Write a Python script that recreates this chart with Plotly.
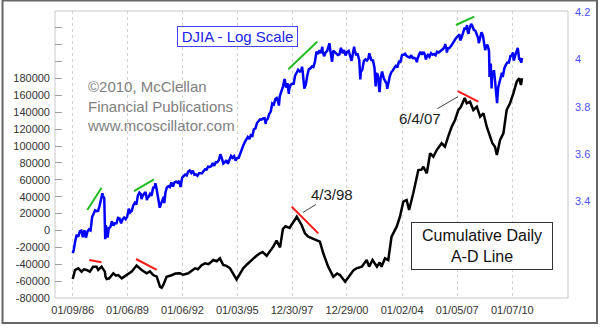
import numpy as np
import pandas as pd
import plotly.graph_objects as go

# ---------------------------------------------------------------------------
# Dow Jones Industrial Average: month-end closes, Jan 1986 .. Jun 2010
# ---------------------------------------------------------------------------
djia_month_end = [
    1571, 1709, 1819, 1784, 1877, 1893, 1775, 1898, 1768, 1878, 1914, 1896,
    2158, 2224, 2305, 2286, 2292, 2419, 2572, 2663, 2596, 1994, 1834, 1939,
    1958, 2072, 1988, 2032, 2031, 2142, 2129, 2032, 2113, 2149, 2115, 2169,
    2342, 2258, 2294, 2419, 2480, 2440, 2661, 2737, 2693, 2645, 2706, 2753,
    2591, 2627, 2707, 2657, 2877, 2881, 2905, 2614, 2453, 2442, 2560, 2634,
    2736, 2882, 2914, 2888, 3028, 2907, 3025, 3044, 3017, 3069, 2895, 3169,
    3224, 3267, 3236, 3359, 3397, 3319, 3394, 3257, 3272, 3226, 3306, 3301,
    3310, 3370, 3435, 3428, 3527, 3516, 3540, 3651, 3555, 3681, 3684, 3754,
    3978, 3832, 3636, 3682, 3758, 3625, 3765, 3913, 3843, 3908, 3739, 3834,
    3844, 4011, 4158, 4321, 4465, 4556, 4709, 4611, 4789, 4756, 5075, 5117,
    5395, 5486, 5588, 5569, 5643, 5655, 5529, 5616, 5882, 6029, 6522, 6448,
    6813, 6877, 6584, 7009, 7331, 7673, 8223, 7622, 7945, 7442, 7823, 7908,
    7907, 8546, 8800, 9063, 8900, 8952, 8883, 7539, 7843, 8592, 9117, 9181,
    9359, 9307, 9786, 10789, 10560, 10971, 10655, 10829, 10337, 10730, 10878, 11497,
    10941, 10128, 10922, 10734, 10522, 10448, 10522, 11215, 10651, 10971, 10415, 10787,
    10887, 10495, 9879, 10735, 10912, 10502, 10523, 9950, 8848, 9075, 9852, 10022,
    9920, 10106, 10404, 9946, 9925, 9243, 8737, 8664, 7592, 8397, 8896, 8342,
    8054, 7891, 7992, 8480, 8850, 8985, 9234, 9416, 9275, 9801, 9782, 10454,
    10488, 10584, 10358, 10226, 10188, 10435, 10140, 10174, 10080, 10027, 10428, 10783,
    10490, 10766, 10504, 10193, 10467, 10275, 10641, 10482, 10569, 10440, 10806, 10718,
    10865, 10993, 11109, 11367, 11168, 11150, 11186, 11381, 11679, 12081, 12222, 12463,
    12622, 12269, 12354, 13063, 13628, 13409, 13212, 13358, 13896, 13930, 13372, 13265,
    12650, 12266, 12263, 12820, 12638, 11350, 11378, 11544, 10851, 9325, 8829, 8776,
    8001, 7063, 7609, 8168, 8500, 8447, 9172, 9496, 9712, 9713, 10345, 10428,
    10067, 10325, 10857, 11009, 10137, 9774,
]

# Intra-month highs and lows plus the first and last days of the series
djia_swing_dates = [
    "1986-01-09", "1987-08-25", "1987-10-19", "1987-12-04", "1989-10-13",
    "1990-01-30", "1990-07-16", "1990-10-11", "1991-01-09", "1996-07-23",
    "1997-04-11", "1997-08-06", "1997-10-27", "1998-07-17", "1999-08-25",
    "2000-01-14", "2000-03-07", "2001-05-21", "2001-09-21", "2002-03-19",
    "2002-07-23", "2002-10-09", "2003-03-11", "2004-10-25", "2005-04-20",
    "2006-05-10", "2006-06-13", "2007-02-20", "2007-03-05", "2007-07-19",
    "2007-08-16", "2007-10-09", "2008-03-10", "2008-05-02", "2008-07-15",
    "2008-10-10", "2008-11-04", "2008-11-20", "2009-01-06", "2009-03-09",
    "2009-06-12", "2010-01-19", "2010-02-08", "2010-04-26", "2010-05-25",
    "2010-07-02", "2010-07-20",
]
djia_swing_values = [
    1518, 2722, 1739, 1767, 2569,
    2543, 2999, 2365, 2470, 5347,
    6392, 8259, 7161, 9338, 11326,
    11723, 9796, 11337, 8236, 10635,
    7702, 7286, 7524, 9750, 10012,
    11642, 10706, 12786, 12050, 14000,
    12846, 14165, 11740, 13058, 10963,
    8451, 9625, 7552, 9015, 6547,
    8800, 10725, 9908, 11205, 9975,
    9686, 10150,
]

# ---------------------------------------------------------------------------
# NYSE cumulative daily advance-decline line
# ---------------------------------------------------------------------------
ad_dates = [
    "1986-01-09", "1986-02-24", "1986-04-30", "1986-07-05", "1986-08-22", "1986-10-12", "1986-12-16",
    "1987-02-20", "1987-04-30", "1987-06-02", "1987-08-07", "1987-09-09", "1987-10-12", "1987-10-26", "1987-11-17",
    "1988-01-08", "1988-03-29", "1988-05-20", "1988-07-05", "1988-09-13", "1988-12-20",
    "1989-03-29", "1989-07-05", "1989-10-15",
    "1990-01-22", "1990-03-29", "1990-06-02", "1990-08-11", "1990-10-15", "1990-11-17", "1990-12-20",
    "1991-02-24", "1991-06-02", "1991-08-20", "1991-11-17",
    "1992-01-20", "1992-05-01", "1992-07-15", "1992-09-13", "1992-11-10",
    "1993-01-15", "1993-03-29", "1993-06-10", "1993-09-13", "1993-11-20",
    "1994-01-22", "1994-03-29", "1994-06-01", "1994-08-11", "1994-12-20",
    "1995-03-01", "1995-05-01", "1995-07-20", "1995-10-15",
    "1996-01-10", "1996-03-29", "1996-05-20", "1996-08-11", "1996-12-20",
    "1997-02-24", "1997-05-05", "1997-07-01", "1997-08-22", "1997-11-10",
    "1998-01-22", "1998-04-03", "1998-07-08", "1998-09-13", "1998-11-17",
    "1999-01-26", "1999-05-05", "1999-07-08", "1999-09-13", "1999-12-20",
    "2000-04-01", "2000-06-15", "2000-08-11", "2000-11-22",
    "2001-02-28", "2001-05-10", "2001-07-08", "2001-10-20",
    "2002-01-26", "2002-03-15", "2002-05-22", "2002-08-18", "2002-10-12", "2002-11-17",
    "2003-01-26", "2003-04-01", "2003-06-05", "2003-09-16", "2003-11-20",
    "2004-01-26", "2004-04-01", "2004-05-20", "2004-08-11", "2004-11-20",
    "2005-01-22", "2005-02-28", "2005-05-08", "2005-07-13", "2005-09-16", "2005-11-22",
    "2006-02-28", "2006-05-05", "2006-07-08", "2006-09-16", "2006-11-22",
    "2007-01-26", "2007-03-14", "2007-06-04", "2007-07-13", "2007-09-16", "2007-11-22",
    "2008-01-30", "2008-04-05", "2008-06-10", "2008-08-15", "2008-10-20", "2008-12-05",
    "2009-01-26", "2009-03-05", "2009-05-08", "2009-07-13", "2009-09-16", "2009-11-22",
    "2010-01-26", "2010-04-05", "2010-05-22", "2010-06-28", "2010-07-20",
]
ad_values = [
    -57500, -47000, -44800, -48800, -46000, -46800, -48800,
    -43000, -42900, -46800, -42900, -45500, -48800, -55000, -57500,
    -56700, -50700, -53500, -52800, -56700, -52800,
    -48800, -41500, -46800,
    -50700, -48500, -52800, -54800, -66600, -67800, -64600,
    -54800, -53000, -51000, -50700,
    -52500, -50700, -47000, -44800, -46000,
    -41500, -38900, -40000, -35000, -36500,
    -33000, -40900, -42000, -44800, -58000,
    -50000, -44800, -40000, -35000,
    -30500, -27000, -25500, -30000, -19200,
    -12000, -20000, 2000, 5000, 3000,
    10400, 16300, 6500, -3400, -7400,
    -9300, -11300, -13300, -27000, -42900,
    -54800, -51000, -52800, -60700,
    -52800, -47000, -44800, -42900,
    -35000, -42900, -35000, -42900, -38000, -43000,
    -33000, -35000, -7400, 4500, 16300,
    34100, 36100, 24300, 44000, 71600,
    72000, 75500, 67700, 91400, 87400, 95300,
    103300, 99200, 111100, 122900, 130900,
    142700, 146000, 157000, 150700, 152600, 142700,
    146600, 134800, 138800, 122900, 111100, 103300,
    99200, 89400, 107200, 115100, 142700, 150700,
    162000, 176300, 180300, 172300, 180300,
]

# Divergence trend lines: DJIA highs (green) vs. A-D line highs (red)
djia_trend_dates = [
    ("1986-10-27", "1987-08-07"),
    ("1989-05-15", "1990-06-18"),
    ("1997-10-16", "1999-05-15"),
    ("2006-12-10", "2007-12-10"),
]
djia_trend_values = [(2312, 2871), (2782, 3114), (9100, 11903), (14007, 15187)]

ad_trend_dates = [
    ("1986-12-05", "1987-08-07"),
    ("1989-06-24", "1990-08-11"),
    ("1997-12-24", "1999-06-06"),
    ("2007-01-15", "2008-03-01"),
]
ad_trend_values = [(-35000, -37700), (-33800, -46800), (28200, -3400), (165200, 152600)]

# Axis ticks
x_tick_dates = ["1986-01-09", "1989-01-06", "1992-01-06", "1995-01-03", "1997-12-30",
                "2000-12-29", "2004-01-02", "2007-01-05", "2010-01-07"]
x_tick_labels = ["01/09/86", "01/06/89", "01/06/92", "01/03/95", "12/30/97",
                 "12/29/00", "01/02/04", "01/05/07", "01/07/10"]
ad_ticks = list(range(-80000, 260001, 20000))
ad_tick_labels = [str(v) if v <= 180000 else "" for v in ad_ticks]
log_ticks = [3.4, 3.6, 3.8, 4.0, 4.2]
log_tick_labels = ["3.4", "3.6", "3.8", "4", "4.2"]

# ---------------------------------------------------------------------------
month_end_dates = pd.period_range("1986-01", periods=len(djia_month_end),
                                  freq="M").to_timestamp(how="end").normalize()
djia = pd.Series(djia_month_end, index=month_end_dates)
djia = pd.concat([djia, pd.Series(djia_swing_values, index=pd.to_datetime(djia_swing_dates))])
djia = djia.sort_index()

FONT = "Arial, 'Liberation Sans', sans-serif"
BLUE = "#0000ff"
GREEN = "#22bb22"
RED = "#ff1a1a"

fig = go.Figure()

fig.add_trace(go.Scatter(
    x=pd.to_datetime(ad_dates), y=ad_values, mode="lines", yaxis="y",
    line=dict(color="#000000", width=2.5), hoverinfo="skip"))

fig.add_trace(go.Scatter(
    x=djia.index, y=np.log10(djia.values), mode="lines", yaxis="y2",
    line=dict(color=BLUE, width=2.5), hoverinfo="skip"))

for (d0, d1), (v0, v1) in zip(ad_trend_dates, ad_trend_values):
    fig.add_trace(go.Scatter(x=[d0, d1], y=[v0, v1], mode="lines", yaxis="y",
                             line=dict(color=RED, width=2), hoverinfo="skip"))

for (d0, d1), (v0, v1) in zip(djia_trend_dates, djia_trend_values):
    fig.add_trace(go.Scatter(x=[d0, d1], y=np.log10([v0, v1]), mode="lines", yaxis="y2",
                             line=dict(color=GREEN, width=2), hoverinfo="skip"))

fig.update_layout(
    template="none",
    width=600, height=329,
    margin=dict(l=55, r=32, t=11, b=31, pad=0),
    paper_bgcolor="white", plot_bgcolor="white",
    showlegend=False,
    font=dict(family=FONT, size=11, color="#333333"),
    xaxis=dict(
        type="date", range=["1985-01-21", "2013-01-21"],
        tickvals=x_tick_dates, ticktext=x_tick_labels,
        showgrid=True, gridcolor="#d2d2d2", griddash="dot", gridwidth=1,
        ticks="", zeroline=False, showline=False, automargin=False,
        tickfont=dict(size=11, color="#333333"), ticklabelstandoff=4,
    ),
    yaxis=dict(
        range=[-80000, 260000], tickvals=ad_ticks, ticktext=ad_tick_labels,
        ticks="inside", ticklen=7, tickcolor="#a0a0a0", tickwidth=1,
        showgrid=False, zeroline=False, showline=False, automargin=False,
        tickfont=dict(size=11, color="#333333"), ticklabelstandoff=4,
    ),
    yaxis2=dict(
        overlaying="y", side="right", range=[2.992, 4.2055],
        tickvals=log_ticks, ticktext=log_tick_labels, ticks="",
        showgrid=False, zeroline=False, showline=False, automargin=False,
        tickfont=dict(size=11, color="#5050ff"), ticklabelstandoff=6,
    ),
)

# Plot frame and the outer picture frame
fig.add_shape(type="rect", xref="paper", yref="paper", x0=0, x1=1, y0=0, y1=1,
              line=dict(color="#c8c8c8", width=1), layer="below")
fig.add_shape(type="rect", xref="paper", yref="paper",
              x0=-0.1023, x1=1.0565, y0=-0.0871, y1=1.0366,
              line=dict(color="#666666", width=2))

fig.add_annotation(
    xref="paper", yref="paper", x=0.3552, y=0.9118, xanchor="center", yanchor="middle",
    text="DJIA - Log Scale", showarrow=False,
    font=dict(family=FONT, size=15, color="#2222ee"),
    bgcolor="white", bordercolor="#4444ff", borderwidth=1, borderpad=1,
    width=117, height=17,
)

fig.add_annotation(
    xref="paper", yref="paper", x=0.0585, y=0.6683, xanchor="left", yanchor="middle",
    text="©2010, McClellan<br>Financial Publications<br>www.mcoscillator.com",
    showarrow=False, align="left",
    font=dict(family=FONT, size=15, color="#808080"),
)

fig.add_annotation(
    xref="paper", yref="paper", x=0.832, y=0.1805, xanchor="center", yanchor="middle",
    text="Cumulative Daily<br>A-D Line", showarrow=False, align="center",
    font=dict(family=FONT, size=16, color="#111111"),
    bgcolor="white", bordercolor="#333333", borderwidth=1, borderpad=1,
    width=138, height=44,
)

fig.add_annotation(
    xref="x", yref="y", x="1998-08-04", y=21300, ax=29, ay=-18,
    text="4/3/98", showarrow=True, arrowhead=0, arrowwidth=1, arrowcolor="#444444",
    font=dict(family=FONT, size=15, color="#222222"),
)

fig.add_annotation(
    xref="x", yref="y", x="2007-01-20", y=158500, ax=-38, ay=22,
    text="6/4/07", showarrow=True, arrowhead=0, arrowwidth=1, arrowcolor="#444444",
    font=dict(family=FONT, size=15, color="#222222"),
)

fig.write_html("out.html")
